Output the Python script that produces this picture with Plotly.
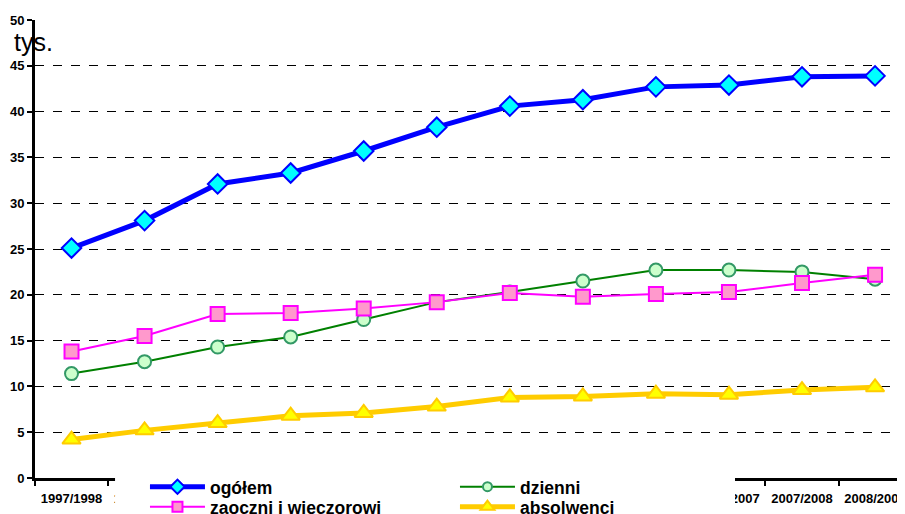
import plotly.graph_objects as go

lata = ["1997/1998", "1998/1999", "1999/2000", "2000/2001", "2001/2002", "2002/2003",
        "2003/2004", "2004/2005", "2005/2006", "2006/2007", "2007/2008", "2008/2009"]
ogolem = [25.1, 28.1, 32.1, 33.3, 35.7, 38.3, 40.6, 41.3, 42.7, 42.9, 43.8, 43.9]
dzienni = [11.4, 12.7, 14.3, 15.4, 17.3, 19.2, 20.3, 21.5, 22.7, 22.7, 22.5, 21.7]
zaoczni = [13.8, 15.5, 17.9, 18.0, 18.5, 19.2, 20.2, 19.8, 20.1, 20.3, 21.3, 22.2]
absolwenci = [4.2, 5.2, 6.0, 6.8, 7.1, 7.8, 8.8, 8.9, 9.2, 9.1, 9.6, 9.9]
y_ticks = [0, 5, 10, 15, 20, 25, 30, 35, 40, 45, 50]

series = [
    # name, values, line colour, line width, symbol, fill, outline, size, legend row, order
    ("absolwenci", absolwenci, "#FFCC00", 5, "triangle-up", "#FFFF00", "#FFCC00", 16, "legend2", 2),
    ("dzienni", dzienni, "#008000", 2, "circle", "#CCFFCC", "#339966", 13, "legend", 2),
    ("zaoczni i wieczorowi", zaoczni, "#FF00FF", 2, "square", "#FF99CC", "#FF00FF", 14, "legend2", 1),
    ("ogółem", ogolem, "#0000FF", 5, "diamond", "#00FFFF", "#0000FF", 15, "legend", 1),
]

fig = go.Figure()
for name, vals, lc, lw, sym, fill, edge, size, leg, rank in series:
    fig.add_trace(go.Scatter(
        x=lata, y=vals, name=name, mode="lines+markers", showlegend=False,
        line=dict(color=lc, width=lw),
        marker=dict(symbol=sym, size=size, color=fill, line=dict(color=edge, width=2))))
# legend entries (smaller markers, as in the reference legend)
for name, vals, lc, lw, sym, fill, edge, size, leg, rank in series:
    fig.add_trace(go.Scatter(
        x=[None], y=[None], name=name, mode="lines+markers", legend=leg, legendrank=rank,
        line=dict(color=lc, width=lw),
        marker=dict(symbol=sym, size=size - 4, color=fill, line=dict(color=edge, width=2))))

legend_font = dict(size=17.5, family="Liberation Sans, Arial, sans-serif", color="black",
                   weight="bold")
legend_common = dict(orientation="h", x=0.1264, xanchor="left", yanchor="top",
                     bgcolor="rgba(0,0,0,0)", borderwidth=0, entrywidth=240,
                     entrywidthmode="pixels", itemwidth=55, font=legend_font,
                     traceorder="normal", tracegroupgap=0)

# the page body adds an 8px offset, so the figure is 8px smaller on each side
fig.update_layout(
    width=897, height=506,
    margin=dict(l=27, r=0, t=12, b=36, autoexpand=False),
    paper_bgcolor="white", plot_bgcolor="white",
    font=dict(family="Liberation Sans, Arial, sans-serif", color="black"),
    showlegend=True,
    legend=dict(y=0.02, **legend_common),
    legend2=dict(y=-0.0237, **legend_common),
    shapes=[dict(type="rect", xref="paper", yref="paper", x0=0.092, x1=0.8046,
                 y0=-0.09, y1=0.0087, fillcolor="white", line=dict(width=0),
                 layer="above")],
    annotations=[dict(text="tys.", xref="paper", yref="paper", x=-0.026, y=0.952,
                      xanchor="left", yanchor="middle", showarrow=False,
                      font=dict(size=25, color="black"))],
)
fig.update_xaxes(
    type="category", range=[-0.5, 11.41], showgrid=False, automargin=False,
    showline=True, linecolor="black", linewidth=3, tickangle=0,
    ticks="outside", tickson="boundaries", ticklen=5, tickwidth=2, tickcolor="black",
    ticklabelstandoff=6,
    tickfont=dict(size=13, weight="bold", color="black"))
fig.update_yaxes(
    range=[0, 50], tickvals=y_ticks, showgrid=True, gridcolor="black", gridwidth=1,
    griddash="dash", showline=True, linecolor="black", linewidth=3, automargin=False,
    ticks="outside", ticklen=5, tickwidth=2, tickcolor="black", zeroline=False,
    tickfont=dict(size=13, weight="bold", color="black"))

fig.write_html("out.html")
